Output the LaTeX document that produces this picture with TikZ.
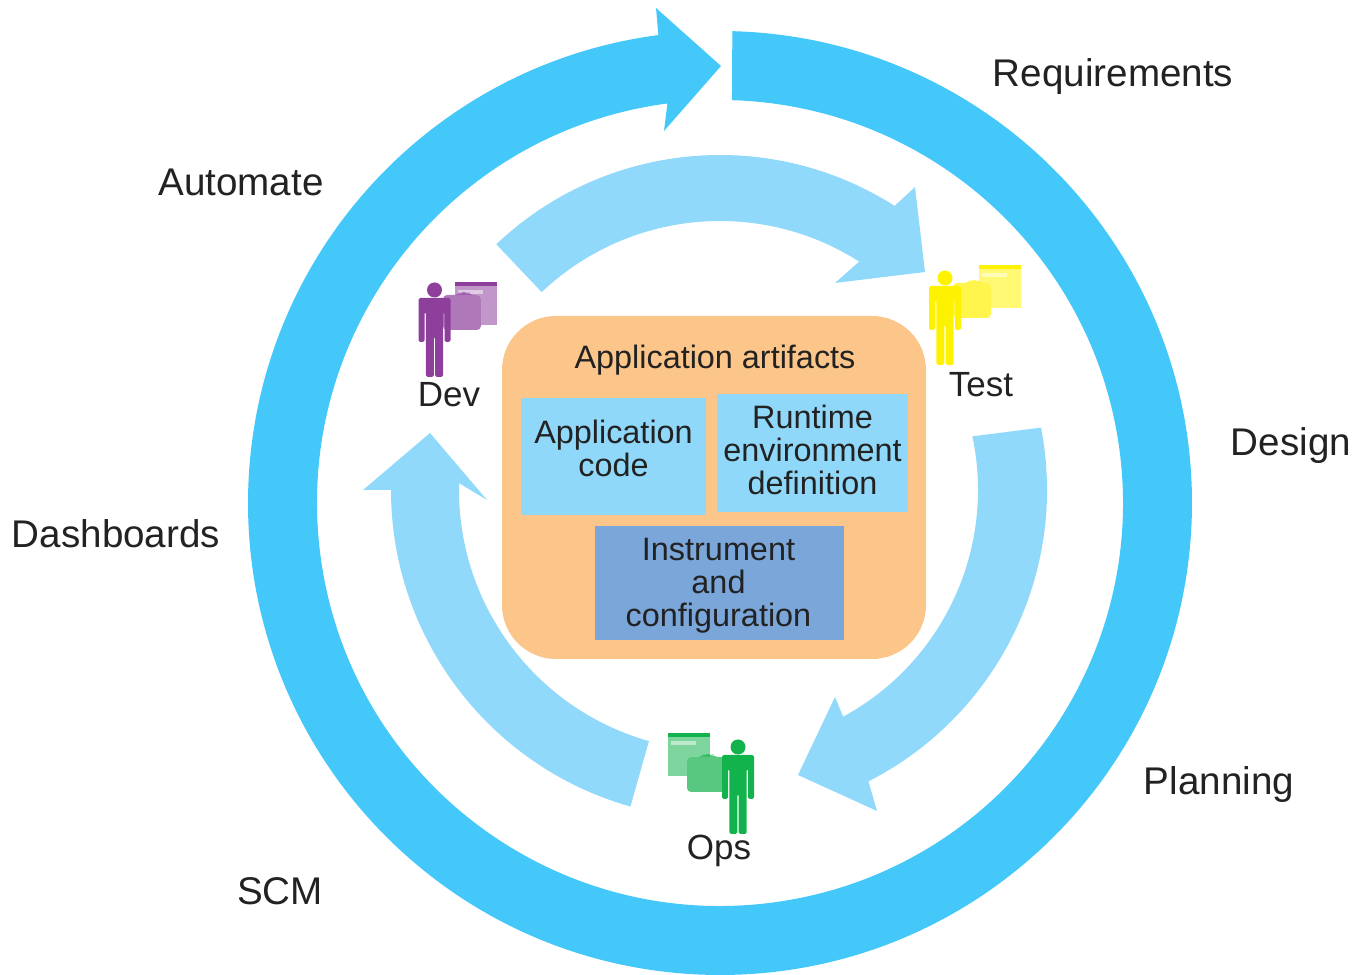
\documentclass[tikz,border=0pt]{standalone}
\usepackage{fontspec}
\setmainfont{Liberation Sans}
\usetikzlibrary{positioning}

\definecolor{ringblue}{HTML}{44C8F9}
\definecolor{arrowblue}{HTML}{91D9FA}
\definecolor{boxorange}{HTML}{FCC589}
\definecolor{boxblue}{HTML}{8FD8F9}
\definecolor{instblue}{HTML}{7BA6DA}
\definecolor{devpurple}{HTML}{8E3F9C}
\definecolor{testyellow}{HTML}{FFF200}
\definecolor{opsgreen}{HTML}{12B24C}
\definecolor{inktext}{HTML}{222222}

\begin{document}
\begin{tikzpicture}[
		x=0.5pt, y=0.5pt,
		ring/.style    = {fill=ringblue},
		flow/.style    = {fill=arrowblue},
		outlabel/.style = {text=inktext, inner sep=0pt, font=\fontsize{19.3}{21}\selectfont},
		rolelabel/.style = {text=inktext, inner sep=0pt, font=\fontsize{17.5}{20}\selectfont},
		artifact/.style = {text=inktext, inner sep=0pt, align=center, font=\fontsize{16.2}{16.5}\selectfont},
		artbox/.style = {inner sep=0pt},
		person/.pic = {
			\path[pic actions] (0,0) circle (7.5);
			\path[pic actions, rounded corners=0.8pt] (-16,-8) -- (16,-8) -- (16,-52) -- (10,-52) -- (10,-22) -- (8.6,-22)
				-- (8.6,-87) -- (0.7,-87) -- (0.7,-47) -- (-0.7,-47) -- (-0.7,-87) -- (-8.6,-87) -- (-8.6,-22)
				-- (-10,-22) -- (-10,-52) -- (-16,-52) -- cycle;
		},
		window/.pic = {
			\path[pic actions, fill opacity=.55] (0,0) rectangle (42,-43);
			\path[pic actions] (0,0) rectangle (42,-4);
			\fill[white, opacity=.5] (3,-8) rectangle (28,-12);
		},
		folder/.pic = {
			\fill[white, rounded corners=2pt] (0,0) rectangle (38,-35);
			\path[pic actions, fill opacity=.7, rounded corners=2pt] (0,0) -- (15,0) -- (17,3) -- (25,3) -- (27,0) -- (38,0) -- (38,-35) -- (0,-35) -- cycle;
		}]

	\useasboundingbox (0,0) rectangle (1356,975);

	% outer ring
	\fill[ring] ([shift={(720,472)}]88.5:472) arc[start angle=88.5, end angle=-262.5, radius=472]
		-- (656,967) -- (721,909) -- (664,844) -- ([shift={(720,472)}]97.5:403)
		arc[start angle=-262.5, end angle=88.3, radius=403] -- cycle;

	% flow arrows
	\fill[flow] ([shift={(720,495)}]133.5:325) arc[start angle=133.5, end angle=57.5, radius=325]
		-- (915,788) -- (925,703) -- (835,692) -- ([shift={(720,495)}]57.5:259)
		arc[start angle=57.5, end angle=133.5, radius=259] -- cycle;
	\fill[flow] ([shift={(720,485)}]11:327) arc[start angle=11, end angle=-63, radius=327]
		-- (877,164) -- (798,200) -- (835,278) -- ([shift={(720,485)}]-61.5:258)
		arc[start angle=-61.5, end angle=12, radius=258] -- cycle;
	\fill[flow] ([shift={(720,485)}]-105.8:329) arc[start angle=-105.8, end angle=-180, radius=329]
		-- (363,485) -- (430,542) -- (487,475) -- ([shift={(720,485)}]-181.5:261)
		arc[start angle=-181.5, end angle=-105.8, radius=261] -- cycle;

	% central box and the artifacts in it
	\node[fill=boxorange, rounded corners=27pt, minimum width=212pt, minimum height=171.5pt, inner sep=0pt] (artifacts) at (714,487.5) {};
	\node[artifact] (title) at (715,615) {Application artifacts};
	\node[artbox, fill=boxblue, minimum width=92.5pt, minimum height=58.5pt,
		label={[artifact, yshift=4pt]center:Application\\code}] (appcode) at (613.5,518.5) {};
	\node[artbox, fill=boxblue, minimum width=95.5pt, minimum height=59pt,
		label={[artifact, yshift=1.5pt]center:Runtime\\environment\\definition}] (runtime) at (812.5,522) {};
	\node[artbox, fill=instblue, minimum width=124.5pt, minimum height=57pt,
		label={[artifact, yshift=-1.5pt, xshift=-0.5pt]center:Instrument\\and\\configuration}] (instrument) at (719.5,392) {};

	% roles
	\pic[fill=devpurple] at (455,693) {window};
	\pic[fill=devpurple] at (443,680) {folder};
	\pic[fill=devpurple] at (434.5,685) {person};
	\pic[fill=testyellow] at (979,710) {window};
	\pic[fill=testyellow] at (953,692) {folder};
	\pic[fill=testyellow] at (945,697) {person};
	\pic[fill=opsgreen] at (668,242) {window};
	\pic[fill=opsgreen] at (687,218) {folder};
	\pic[fill=opsgreen] at (738,228) {person};

	\node[rolelabel] (dev) at (449,580) {Dev};
	\node[rolelabel] (test) at (981,590) {Test};
	\node[rolelabel] (ops) at (719,124) {Ops};

	% labels round the ring
	\node[outlabel] (requirements) at (1113,898) {Requirements};
	\node[outlabel] (automate) at (241,793) {Automate};
	\node[outlabel] (design) at (1291,529) {Design};
	\node[outlabel] (dashboards) at (116,441) {Dashboards};
	\node[outlabel] (planning) at (1219,190) {Planning};
	\node[outlabel] (scm) at (280,84) {SCM};
\end{tikzpicture}
\end{document}
